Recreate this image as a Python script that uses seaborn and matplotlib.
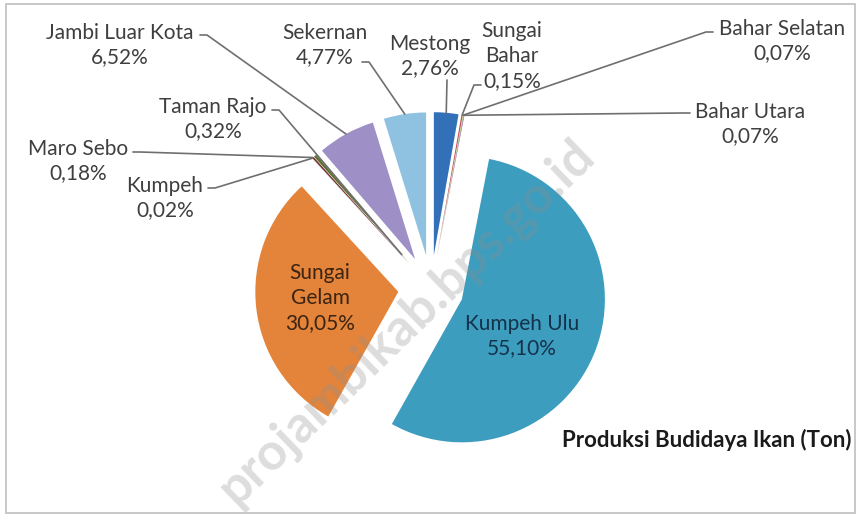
import numpy as np
import pandas as pd
import seaborn as sns
import matplotlib.pyplot as plt
from matplotlib.patches import Rectangle

# DATA - share of fish farming production per district (%)
districts = ['Mestong', 'Sungai Bahar', 'Bahar Selatan', 'Bahar Utara', 'Kumpeh Ulu',
             'Sungai Gelam', 'Kumpeh', 'Maro Sebo', 'Taman Rajo', 'Jambi Luar Kota', 'Sekernan']
shares = [2.76, 0.15, 0.07, 0.07, 55.10, 30.05, 0.02, 0.18, 0.32, 6.52, 4.77]
title = 'Produksi Budidaya Ikan (Ton)'
watermark = 'projambikab.bps.go.id'

colors = ['#3270B8', '#C0504D', '#9BBB59', '#8064A2', '#3C9DBE',
          '#E4843A', '#2C4D75', '#772C2A', '#5F7530', '#9E8FC6', '#8EC2E0']

df = pd.DataFrame({'district': districts, 'share': shares})
df['label'] = df['share'].map(lambda v: f'{v:.2f}'.replace('.', ',') + '%')

sns.set_theme(style='white')
plt.rcParams['font.family'] = ['Lato', 'DejaVu Sans']

W, H = 858, 515
R_PX = 143.0          # pie radius in pixels
CX, CY = 431.0, 288.0  # pie centre in pixels (from top-left)
FS = 15

fig = plt.figure(figsize=(W / 100, H / 100), dpi=100)
ax = fig.add_axes([0, 0, 1, 1])


def px(x, y):
    return ((x - CX) / R_PX, (CY - y) / R_PX)


wedges, _ = ax.pie(df['share'], colors=colors, startangle=90, counterclock=False,
                   explode=[0.23] * len(df), radius=1,
                   wedgeprops=dict(linewidth=0))

# pie() resets the limits, so set them afterwards
ax.set_xlim(-CX / R_PX, (W - CX) / R_PX)
ax.set_ylim(-(H - CY) / R_PX, CY / R_PX)
ax.set_aspect('equal', adjustable='datalim')
ax.axis('off')

# label layout: text centre (px), leader start (px), elbow (px), endpoint kind
layout = {
    'Jambi Luar Kota': ((120, 45), (200, 35), (207, 35), 'outer'),
    'Sekernan': ((325, 45), (362, 62), (369, 62), 'outer'),
    'Mestong': ((430, 56), (447, 80), None, 'outer'),
    'Sungai Bahar': ((512, 56), (481, 85), (474, 85), 'outer'),
    'Bahar Selatan': ((782, 41), (713, 32), (706, 32), 'outer'),
    'Bahar Utara': ((750, 124), (690, 113), (683, 113), 'outer'),
    'Taman Rajo': ((213, 119), (272, 110), (279, 110), 'inner'),
    'Maro Sebo': ((78, 161), (133, 152), (140, 152), 'outer'),
    'Kumpeh': ((165, 198), (208, 188), (215, 188), 'outer'),
}
inside = {'Sungai Gelam': (320, 298), 'Kumpeh Ulu': (522, 336)}

for w, (_, row) in zip(wedges, df.iterrows()):
    name = row['district']
    mid = np.deg2rad((w.theta1 + w.theta2) / 2)
    cx, cy = w.center
    if name in inside:
        tx, ty = px(*inside[name])
        txt = name.replace(' ', '\n') if name == 'Sungai Gelam' else name
        tcol = '#3b2412' if name == 'Sungai Gelam' else '#14324a'
        ax.text(tx, ty, f'{txt}\n{row["label"]}', ha='center', va='center',
                fontsize=FS, color=tcol, linespacing=1.3)
        continue
    (tcx, tcy), start, elbow, kind = layout[name]
    txt = 'Sungai\nBahar' if name == 'Sungai Bahar' else name
    tx, ty = px(tcx, tcy)
    ax.text(tx, ty, f'{txt}\n{row["label"]}', ha='center', va='center',
            fontsize=FS, color='#3f3f3f', linespacing=1.3)
    rr = w.r if kind == 'outer' else 0.08
    end = (cx + rr * np.cos(mid), cy + rr * np.sin(mid))
    pts = [px(*start)]
    if elbow is not None:
        pts.append(px(*elbow))
    pts.append(end)
    xs, ys = zip(*pts)
    ax.plot(xs, ys, color='#6f6f6f', lw=1.2, zorder=3)

# title
ax.text(*px(852, 440), title, ha='right', va='center', fontsize=16,
        fontweight='bold', color='#1a1a1a')

# watermark
ax.text(*px(407, 322), watermark, ha='center', va='center', rotation=44,
        fontsize=37, fontweight='bold', color='#8f8f8f', alpha=0.3, zorder=5)

# chart border
fig.patches.append(Rectangle((6 / W, 1 - 513 / H), 849 / W, 509 / H,
                             transform=fig.transFigure, fill=False,
                             edgecolor='#bfbfbf', lw=1.2))

fig.savefig('out.png', dpi=100)
